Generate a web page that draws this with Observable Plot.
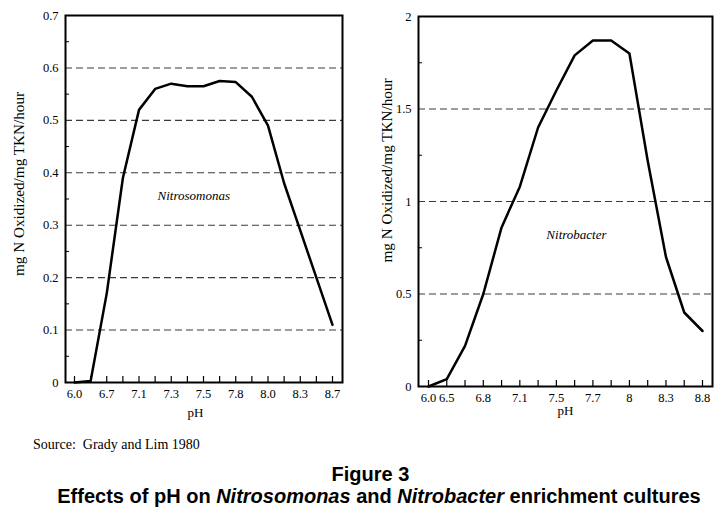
<!DOCTYPE html>
<html>
<head>
<meta charset="utf-8">
<script src="https://cdn.jsdelivr.net/npm/d3@7"></script>
<script src="https://cdn.jsdelivr.net/npm/@observablehq/plot@0.6"></script>
<style>
  body { margin: 0; background: #fff; }
  #root { position: relative; width: 719px; height: 516px; background: #fff; overflow: hidden; }
  .panel { position: absolute; top: 0; }
  .src { position: absolute; left: 33px; top: 437px; font: 14px "Liberation Serif", serif; color: #000; white-space: nowrap; }
  .fig { position: absolute; left: 0; text-align: center; font: bold 20px "Liberation Sans", Arial, sans-serif; color: #000; white-space: nowrap; }
</style>
</head>
<body>
<div id="root">
  <div class="panel" id="left" style="left:0px"></div>
  <div class="panel" id="right" style="left:360px"></div>
  <div class="src">Source:&nbsp; Grady and Lim 1980</div>
  <div class="fig" style="top:463px; width:741px">Figure 3</div>
  <div class="fig" style="top:485px; width:758px">Effects of pH on <i>Nitrosomonas</i> and <i>Nitrobacter</i> enrichment cultures</div>
</div>
<script>
// Nitrosomonas (left panel): category tick labels (odd categories unlabeled) and rates
const nitrosoLabels = ["6.0","","6.7","","7.1","","7.3","","7.5","","7.8","","8.0","","8.3","","8.7"];
const nitrosoRate = [0, 0.003, 0.17, 0.39, 0.52, 0.56, 0.57, 0.565, 0.565, 0.575, 0.573, 0.545, 0.49, 0.38, 0.29, 0.20, 0.11];
const nitrosoYTicks = [0, 0.1, 0.2, 0.3, 0.4, 0.5, 0.6, 0.7];
const nitrosoGrid = [0.1, 0.2, 0.3, 0.4, 0.5, 0.6];
const nitrosoMinor = [0.05, 0.15, 0.25, 0.35, 0.45, 0.55, 0.65];

// Nitrobacter (right panel)
const nitrobLabels = ["6.0","6.5","","6.8","","7.1","","7.5","","7.7","","8","","8.3","","8.8"];
const nitrobRate = [0, 0.04, 0.22, 0.5, 0.86, 1.08, 1.4, 1.6, 1.79, 1.87, 1.87, 1.8, 1.22, 0.7, 0.4, 0.3];
const nitrobYTicks = [0, 0.5, 1, 1.5, 2];
const nitrobGrid = [0.5, 1, 1.5];
const nitrobMinor = [0.25, 0.75, 1.25, 1.75];

const yTitle = "mg N Oxidized/mg TKN/hour";
const xTitle = "pH";

function panel(cfg) {
  const {labels, rate, yTicks, grid, minor, ymax, width, height, mL, mR, mT, mB,
         insL, insR, name, nameX, nameY, titleDx, titleDy, pHdy} = cfg;
  const idx = labels.map((_, i) => i);
  const rows = rate.map((v, i) => ({i, v}));
  const fw = width - mL - mR;
  const fh = height - mT - mB;
  return Plot.plot({
    width, height,
    marginLeft: mL, marginRight: mR, marginTop: mT, marginBottom: mB,
    style: {fontFamily: "Liberation Serif, serif", fontSize: "12.5px", color: "#000", background: "#fff"},
    x: {type: "linear", domain: [0, labels.length - 1], insetLeft: insL, insetRight: insR},
    y: {domain: [0, ymax]},
    marks: [
      Plot.ruleY(grid, {stroke: "#3a3a3a", strokeWidth: 1.1, strokeDasharray: "7,4"}),
      Plot.ruleY(minor, {stroke: "#000", strokeWidth: 1, insetRight: fw - 4}),
      Plot.ruleX(idx, {x: d => d, stroke: "#000", strokeWidth: 1.2, insetTop: fh - 6}),
      Plot.line(rows, {x: "i", y: "v", stroke: "#000", strokeWidth: 2.5, strokeLinejoin: "round"}),
      Plot.frame({stroke: "#000", strokeWidth: 2}),
      Plot.axisX({ticks: idx, tickFormat: d => labels[d], tickSize: 0, tickPadding: 7, label: null}),
      Plot.axisY({ticks: yTicks, tickFormat: d => String(d), tickSize: 0, tickPadding: 7, label: null}),
      Plot.text([name], {x: nameX, y: nameY, text: d => d, fontStyle: "italic", fontSize: 13}),
      Plot.text([yTitle], {frameAnchor: "left", textAnchor: "middle", text: d => d, rotate: -90, dx: titleDx, dy: titleDy, fontSize: 15.2}),
      Plot.text([xTitle], {x: 7.5, frameAnchor: "bottom", text: d => d, dy: pHdy, fontSize: 13})
    ]
  });
}

document.getElementById("left").append(panel({
  labels: nitrosoLabels, rate: nitrosoRate, yTicks: nitrosoYTicks, grid: nitrosoGrid, minor: nitrosoMinor,
  ymax: 0.7, width: 360, height: 425, mL: 65, mR: 18, mT: 15, mB: 43, insL: 9, insR: 10,
  name: "Nitrosomonas", nameX: 7.4, nameY: 0.357, titleDx: -46, titleDy: -15, pHdy: 34
}));

document.getElementById("right").append(panel({
  labels: nitrobLabels, rate: nitrobRate, yTicks: nitrobYTicks, grid: nitrobGrid, minor: nitrobMinor,
  ymax: 2, width: 359, height: 425, mL: 58, mR: 7, mT: 16, mB: 39, insL: 10, insR: 10,
  name: "Nitrobacter", nameX: 8.1, nameY: 0.82, titleDx: -31, titleDy: -31, pHdy: 28
}));
</script>
</body>
</html>
